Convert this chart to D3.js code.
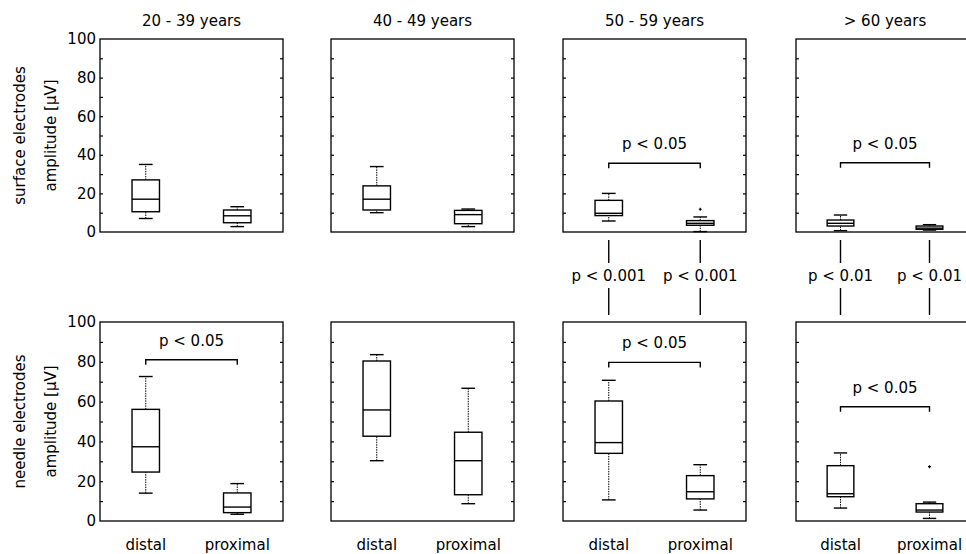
<!DOCTYPE html>
<html>
<head>
<meta charset="utf-8">
<script src="https://cdn.jsdelivr.net/npm/d3@7"></script>
<style>
  body { margin: 0; background: #fff; }
  text { font-family: "DejaVu Sans", sans-serif; fill: #000; }
</style>
</head>
<body>
<div id="chart"></div>
<script>
// age groups (one column of panels each)
var groups = ["20 - 39 years", "40 - 49 years", "50 - 59 years", "> 60 years"];
var sites = ["distal", "proximal"];
var yTicks = [0, 20, 40, 60, 80, 100];

// box stats: [whisker low, q1, median, q3, whisker high], per group, per site
var surfaceDistal = [[7, 10.5, 17, 27, 35], [10, 11.4, 17, 23.9, 33.9], [5.7, 8.5, 9.7, 16.4, 20], [0.7, 3.1, 4.5, 6.2, 8.8]];
var surfaceProximal = [[2.8, 4.8, 8.4, 11.4, 13.1], [2.8, 4.3, 9, 11.2, 11.9], [0.2, 3.5, 4.5, 5.9, 7.8], [1, 1.4, 2, 3.1, 3.8]];
var needleDistal = [[14, 24.6, 37.3, 56.1, 72.6], [30.3, 42.6, 55.8, 80.4, 83.6], [10.6, 34, 39.4, 60.3, 70.7], [6.5, 12.2, 13.7, 27.8, 34.2]];
var needleProximal = [[3.4, 4.2, 7, 14.1, 18.8], [8.7, 13.2, 30.3, 44.6, 66.7], [5.5, 11.1, 14.7, 22.8, 28.3], [1.3, 4.5, 5.5, 8.7, 9.5]];

// outliers [group index, site index, value]
var surfaceOutliers = [[2, 1, 11.8]];
var needleOutliers = [[3, 1, 27.3]];

// significance brackets inside panels: label and bracket level
var surfaceSig = [null, null, "p < 0.05", "p < 0.05"];
var surfaceSigLevel = [null, null, 35.6, 35.9];
var needleSig = ["p < 0.05", null, "p < 0.05", "p < 0.05"];
var needleSigLevel = [81, null, 79.7, 57.4];

// surface vs needle comparison between rows, per group (distal, proximal)
var rowSig = [null, null, ["p < 0.001", "p < 0.001"], ["p < 0.01", "p < 0.01"]];

var W = 966, H = 554;
var panelLeft = [100, 331, 563, 796], panelW = [183, 183, 183, 178];
var rows = [
  { top: 39, bottom: 232, label: ["surface electrodes", "amplitude [\u03bcV]"],
    dist: surfaceDistal, prox: surfaceProximal, out: surfaceOutliers, sig: surfaceSig, sigLevel: surfaceSigLevel },
  { top: 322, bottom: 521, label: ["needle electrodes", "amplitude [\u03bcV]"],
    dist: needleDistal, prox: needleProximal, out: needleOutliers, sig: needleSig, sigLevel: needleSigLevel }
];

var svg = d3.select("#chart").append("svg")
  .attr("width", W).attr("height", H);

var boxW = 0.3, capW = 0.15;

rows.forEach(function (row, ri) {
  var y = d3.scaleLinear().domain([0, 100]).range([row.bottom, row.top]);

  // y label, two rotated lines
  var cy = (row.top + row.bottom) / 2;
  row.label.forEach(function (t, li) {
    svg.append("text")
      .attr("transform", "translate(" + (20 + li * 31) + "," + cy + ") rotate(-90)")
      .attr("text-anchor", "middle")
      .attr("dy", "0.35em")
      .style("font-size", "15px")
      .text(t);
  });

  groups.forEach(function (g, gi) {
    var x = d3.scaleLinear().domain([0.5, 2.5]).range([panelLeft[gi], panelLeft[gi] + panelW[gi]]);
    var p = svg.append("g");

    // frame
    p.append("rect")
      .attr("x", x(0.5)).attr("y", y(100))
      .attr("width", x(2.5) - x(0.5)).attr("height", y(0) - y(100))
      .attr("fill", "none").attr("stroke", "#000").attr("stroke-width", 1.3);

    // inward ticks on both sides
    var left = d3.axisLeft(y).tickValues(d3.range(10, 100, 10)).tickSize(-3).tickFormat("");
    var right = d3.axisRight(y).tickValues(d3.range(10, 100, 10)).tickSize(-3).tickFormat("");
    [[left, x(0.5)], [right, x(2.5)]].forEach(function (a) {
      var ax = p.append("g").attr("transform", "translate(" + a[1] + ",0)").call(a[0]);
      ax.select(".domain").remove();
      ax.selectAll("line").attr("stroke", "#000").attr("stroke-width", 1.2);
    });

    // tick labels on first column only
    if (gi === 0) {
      var yl = p.append("g").attr("transform", "translate(" + x(0.5) + ",0)")
        .call(d3.axisLeft(y).tickValues(yTicks).tickSize(0).tickPadding(4));
      yl.select(".domain").remove();
      yl.selectAll("text").style("font-size", "15px").attr("font-family", null).attr("fill", "#000");
    }

    // group title on top row, site labels on bottom row
    if (ri === 0) {
      svg.append("text")
        .attr("x", x(1.5)).attr("y", 26)
        .attr("text-anchor", "middle")
        .style("font-size", "15px")
        .text(g);
    } else {
      sites.forEach(function (s, si) {
        svg.append("text")
          .attr("x", x(si + 1)).attr("y", 550)
          .attr("text-anchor", "middle")
          .style("font-size", "15px")
          .text(s);
      });
    }

    // boxes
    [row.dist[gi], row.prox[gi]].forEach(function (st, si) {
      var cx = si + 1;
      var b = p.append("g");
      // dotted whiskers
      [[st[0], st[1]], [st[3], st[4]]].forEach(function (w) {
        b.append("line")
          .attr("x1", x(cx)).attr("x2", x(cx))
          .attr("y1", y(w[0])).attr("y2", y(w[1]))
          .attr("stroke", "#000").attr("stroke-width", 1)
          .attr("stroke-dasharray", "1.5,1");
      });
      // caps
      [st[0], st[4]].forEach(function (v) {
        b.append("line")
          .attr("x1", x(cx - capW / 2)).attr("x2", x(cx + capW / 2))
          .attr("y1", y(v)).attr("y2", y(v))
          .attr("stroke", "#000").attr("stroke-width", 1.4);
      });
      b.append("rect")
        .attr("x", x(cx - boxW / 2)).attr("y", y(st[3]))
        .attr("width", x(cx + boxW / 2) - x(cx - boxW / 2))
        .attr("height", y(st[1]) - y(st[3]))
        .attr("fill", "#fff").attr("stroke", "#000").attr("stroke-width", 1.4);
      b.append("line")
        .attr("x1", x(cx - boxW / 2)).attr("x2", x(cx + boxW / 2))
        .attr("y1", y(st[2])).attr("y2", y(st[2]))
        .attr("stroke", "#000").attr("stroke-width", 1.4);
    });

    // outliers as small plus marks
    row.out.filter(function (o) { return o[0] === gi; }).forEach(function (o) {
      var ox = x(o[1] + 1), oy = y(o[2]);
      p.append("path")
        .attr("d", "M" + (ox - 1.5) + "," + oy + "h3M" + ox + "," + (oy - 1.5) + "v3")
        .attr("stroke", "#000").attr("stroke-width", 1.2);
    });

    // significance bracket
    if (row.sig[gi]) {
      var by = y(row.sigLevel[gi]);
      p.append("path")
        .attr("d", "M" + x(1) + "," + (by + 5) + "V" + by + "H" + x(2) + "V" + (by + 5))
        .attr("fill", "none").attr("stroke", "#000").attr("stroke-width", 1.4);
      p.append("text")
        .attr("x", x(1.5)).attr("y", by - 14)
        .attr("text-anchor", "middle")
        .style("font-size", "15px")
        .text(row.sig[gi]);
    }

    // surface vs needle comparison between rows
    if (ri === 0 && rowSig[gi]) {
      rowSig[gi].forEach(function (t, si) {
        var lx = x(si + 1);
        p.append("line").attr("x1", lx).attr("x2", lx).attr("y1", 240).attr("y2", 263)
          .attr("stroke", "#000").attr("stroke-width", 1.4);
        p.append("line").attr("x1", lx).attr("x2", lx).attr("y1", 288).attr("y2", 315)
          .attr("stroke", "#000").attr("stroke-width", 1.4);
        p.append("text")
          .attr("x", lx).attr("y", 281)
          .attr("text-anchor", "middle")
          .style("font-size", "15px")
          .text(t);
      });
    }
  });
});
</script>
</body>
</html>
